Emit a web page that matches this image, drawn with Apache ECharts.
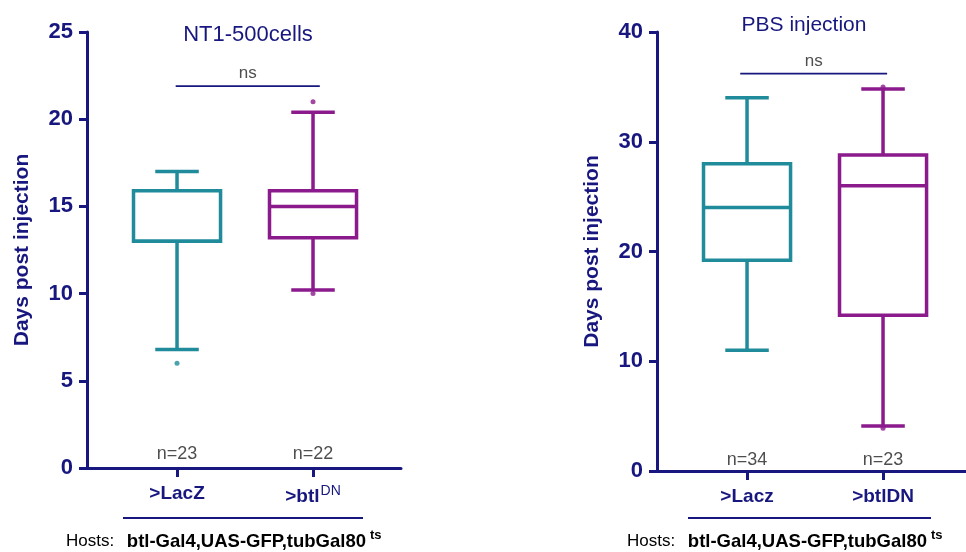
<!DOCTYPE html>
<html>
<head>
<meta charset="utf-8">
<script src="https://cdn.jsdelivr.net/npm/echarts@6/dist/echarts.min.js"></script>
<style>
  html, body { margin: 0; padding: 0; background: #fff; }
  #chart { width: 966px; height: 552px; }
</style>
</head>
<body>
<div id="chart"></div>
<script>
// Panel A: NT1-500cells
const titleA = 'NT1-500cells';
const groupsA = ['>LacZ', '>btl{sup|DN}'];
// [min, Q1, median, Q3, max]
const boxA = [
  [6.8, 13.0, 13.0, 15.9, 17.0],
  [10.2, 13.2, 15.0, 15.9, 20.4],
];
const outliersA = [[1, 6.0], [2, 21.0], [2, 10.0]];
const countsA = ['n=23', 'n=22'];
const sigA = { from: 0.99, to: 2.05, y: 21.9, label: 'ns' };

// Panel B: PBS injection
const titleB = 'PBS injection';
const groupsB = ['>Lacz', '>btlDN'];
const boxB = [
  [11.0, 19.2, 24.0, 28.0, 34.0],
  [4.1, 14.2, 26.0, 28.8, 34.8],
];
const outliersB = [[2, 35.0], [2, 3.9]];
const countsB = ['n=34', 'n=23'];
const sigB = { from: 0.95, to: 2.03, y: 36.2, label: 'ns' };

const NAVY = '#17177f';
const TEAL = '#1f8b9b';
const PURPLE = '#8b1a8c';
const FONT = '"Liberation Sans", Arial, sans-serif';
const boxColors = [TEAL, PURPLE];

const chart = echarts.init(document.getElementById('chart'), null, { renderer: 'canvas' });

// boxes + whiskers drawn from data coordinates
function renderBox(params, api) {
  const x = api.value(0);
  const pLo = api.coord([x, api.value(1)]);
  const pQ1 = api.coord([x, api.value(2)]);
  const pMed = api.coord([x, api.value(3)]);
  const pQ3 = api.coord([x, api.value(4)]);
  const pHi = api.coord([x, api.value(5)]);
  const half = api.size([0.64, 0])[0] / 2;
  const cap = api.size([0.32, 0])[0] / 2;
  const color = boxColors[params.dataIndex];
  const st = { stroke: color, lineWidth: 3.5, fill: null, lineCap: 'butt' };
  const cx = pMed[0];
  return {
    type: 'group',
    children: [
      { type: 'rect', shape: { x: cx - half, y: pQ3[1], width: half * 2, height: pQ1[1] - pQ3[1] }, style: st },
      { type: 'line', shape: { x1: cx - half, y1: pMed[1], x2: cx + half, y2: pMed[1] }, style: st },
      { type: 'line', shape: { x1: cx, y1: pQ3[1], x2: cx, y2: pHi[1] }, style: st },
      { type: 'line', shape: { x1: cx, y1: pQ1[1], x2: cx, y2: pLo[1] }, style: st },
      { type: 'line', shape: { x1: cx - cap, y1: pHi[1], x2: cx + cap, y2: pHi[1] }, style: st },
      { type: 'line', shape: { x1: cx - cap, y1: pLo[1], x2: cx + cap, y2: pLo[1] }, style: st },
    ],
  };
}

function yAxisFor(grid, max, interval) {
  return {
    type: 'value',
    gridIndex: grid,
    min: 0,
    max: max,
    interval: interval,
    name: 'Days post injection',
    nameLocation: 'middle',
    nameRotate: 90,
    nameGap: 54,
    nameTextStyle: { color: NAVY, fontFamily: FONT, fontSize: 21, fontWeight: 'bold' },
    axisLine: { show: true, lineStyle: { color: NAVY, width: 3 } },
    axisTick: { show: true, length: 8, lineStyle: { color: NAVY, width: 3 } },
    axisLabel: { color: NAVY, fontFamily: FONT, fontSize: 22, fontWeight: 'bold', margin: 14 },
    splitLine: { show: false },
  };
}

function xAxisFor(grid, max, names) {
  return {
    type: 'value',
    gridIndex: grid,
    min: 0.338,
    max: max,
    axisLine: { show: true, onZero: false, lineStyle: { color: NAVY, width: 3 } },
    axisTick: { show: true, customValues: [1, 2], length: 9, lineStyle: { color: NAVY, width: 3 } },
    axisLabel: {
      customValues: [1, 2],
      margin: 16,
      color: NAVY,
      fontFamily: FONT,
      fontSize: 19,
      fontWeight: 'bold',
      formatter: (v) => names[Math.round(v) - 1] || '',
      rich: {
        sup: { fontSize: 14, fontWeight: 'normal', color: NAVY, fontFamily: FONT, verticalAlign: 'top', padding: [0, 0, 12, 1] },
      },
    },
    splitLine: { show: false },
  };
}

function seriesFor(idx, boxes, outliers, counts, sig, nY) {
  return [
    {
      type: 'custom',
      xAxisIndex: idx,
      yAxisIndex: idx,
      renderItem: renderBox,
      data: boxes.map((b, i) => [i + 1, ...b]),
      z: 3,
    },
    {
      type: 'scatter',
      xAxisIndex: idx,
      yAxisIndex: idx,
      symbolSize: 5,
      data: outliers.map((o) => ({ value: o, itemStyle: { color: boxColors[o[0] - 1] } })),
      z: 4,
    },
    {
      type: 'scatter',
      xAxisIndex: idx,
      yAxisIndex: idx,
      symbolSize: 0,
      data: counts.map((c, i) => [i + 1, nY]),
      label: {
        show: true,
        position: 'inside',
        color: '#222',
        fontFamily: FONT,
        fontSize: 18,
        formatter: (p) => counts[p.dataIndex],
      },
    },
    {
      type: 'line',
      xAxisIndex: idx,
      yAxisIndex: idx,
      symbol: 'none',
      data: [[sig.from, sig.y], [sig.to, sig.y]],
      lineStyle: { color: NAVY, width: 1.8 },
    },
    {
      type: 'scatter',
      xAxisIndex: idx,
      yAxisIndex: idx,
      symbolSize: 0,
      data: [[(sig.from + sig.to) / 2, sig.y]],
      label: {
        show: true,
        position: 'top',
        distance: 4,
        color: '#222',
        fontFamily: FONT,
        fontSize: 17,
        formatter: sig.label,
      },
    },
  ];
}

function hostsText(left) {
  return {
    type: 'text',
    left: left,
    top: 529,
    style: {
      text: '{n|Hosts:}  {b|btl-Gal4,UAS-GFP,tubGal80}{s|ts}',
      rich: {
        n: { fontFamily: FONT, fontSize: 17, color: NAVY, padding: [0, 6, 0, 0] },
        b: { fontFamily: FONT, fontSize: 18.5, fontWeight: 'bold', color: NAVY },
        s: { fontFamily: FONT, fontSize: 13, fontWeight: 'bold', color: NAVY, verticalAlign: 'top', padding: [0, 0, 12, 4] },
      },
    },
  };
}

chart.setOption({
  animation: false,
  backgroundColor: '#fff',
  title: [
    { text: titleA, left: 243, top: 19, textAlign: 'center',
      textStyle: { color: NAVY, fontFamily: FONT, fontSize: 22, fontWeight: 'normal' } },
    { text: titleB, left: 799, top: 10, textAlign: 'center',
      textStyle: { color: NAVY, fontFamily: FONT, fontSize: 21, fontWeight: 'normal' } },
  ],
  grid: [
    { left: 87, top: 32, width: 314, height: 436 },
    { left: 657, top: 32, width: 309, height: 439 },
  ],
  xAxis: [xAxisFor(0, 2.647, groupsA), xAxisFor(1, 2.61, groupsB)],
  yAxis: [yAxisFor(0, 25, 5), yAxisFor(1, 40, 10)],
  series: [
    ...seriesFor(0, boxA, outliersA, countsA, sigA, 0.8),
    ...seriesFor(1, boxB, outliersB, countsB, sigB, 1.0),
  ],
  graphic: [
    { type: 'line', shape: { x1: 123, y1: 518, x2: 363, y2: 518 }, style: { stroke: NAVY, lineWidth: 2 } },
    { type: 'line', shape: { x1: 688, y1: 518, x2: 931, y2: 518 }, style: { stroke: NAVY, lineWidth: 2 } },
    hostsText(66),
    hostsText(627),
  ],
});
</script>
</body>
</html>
